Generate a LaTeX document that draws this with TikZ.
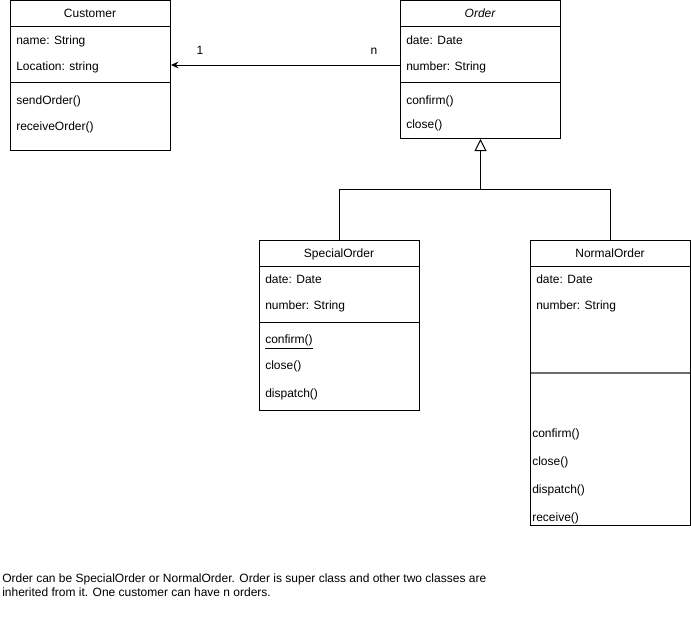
\documentclass[tikz,border=0pt]{standalone}
\usepackage{fontspec}
\setmainfont{Liberation Sans}
\usetikzlibrary{arrows.meta,calc}
\begin{document}
\begin{tikzpicture}[x=0.75pt,y=-0.75pt,
  every node/.style={font=\fontsize{9}{11}\selectfont},
  box/.style={draw,line width=0.75pt,inner sep=0pt,anchor=north west,minimum width=120pt},
  txt/.style={anchor=base west,inner sep=0pt},
  ttl/.style={anchor=base,inner sep=0pt},
  sep/.style={line width=0.75pt},
  lbl/.style={anchor=base,inner sep=0pt}]
\useasboundingbox (0,0) rectangle (691,621);
% Customer
\node[box,minimum height=112.5pt] (customer) at (10,0) {};
\node[ttl] (customerT) at (90,17.5) {Customer};
\draw[sep] (customer.north west)++(0,26) -- ++(160,0);
\draw[sep] (customer.north west)++(0,82) -- ++(160,0);
\node[txt] (c1) at (16,44.5) {name: String};
\node[txt] (c2) at (16,70.5) {Location: string};
\node[txt] (c3) at (16,104.5) {sendOrder()};
\node[txt] (c4) at (16,130.5) {receiveOrder()};
% Order
\node[box,minimum height=103.5pt] (order) at (400,0) {};
\node[ttl] (orderT) at (480,17.5) {\itshape Order};
\draw[sep] (order.north west)++(0,26) -- ++(160,0);
\draw[sep] (order.north west)++(0,82) -- ++(160,0);
\node[txt] (o1) at (406,44.5) {date: Date};
\node[txt] (o2) at (406,70.5) {number: String};
\node[txt] (o3) at (406,104.5) {confirm()};
\node[txt] (o4) at (406,128.5) {close()};
% SpecialOrder
\node[box,minimum height=127.5pt] (special) at (259,240) {};
\node[ttl] (specialT) at (339,257.5) {SpecialOrder};
\draw[sep] (special.north west)++(0,26) -- ++(160,0);
\draw[sep] (special.north west)++(0,82) -- ++(160,0);
\node[txt] (s1) at (265,283.5) {date: Date};
\node[txt] (s2) at (265,309.5) {number: String};
\node[txt] (s3) at (265,343.5) {\underline{confirm()}};
\node[txt] (s4) at (265,369.5) {close()};
\node[txt] (s5) at (265,397.5) {dispatch()};
% NormalOrder
\node[box,minimum height=213.75pt] (normal) at (530,240) {};
\node[ttl] (normalT) at (610,257.5) {NormalOrder};
\draw[sep] (normal.north west)++(0,26) -- ++(160,0);
\draw[line width=1.2pt,gray!85!black] (normal.north west)++(0.5,133) -- ++(159,0);
\node[txt] (n1) at (536,283.5) {date: Date};
\node[txt] (n2) at (536,309.5) {number: String};
\node[txt] (n3) at (532,437.5) {confirm()};
\node[txt] (n4) at (532,465.5) {close()};
\node[txt] (n5) at (532,493.5) {dispatch()};
\node[txt] (n6) at (532,521.5) {receive()};
% association
\draw[line width=0.75pt,-{Stealth[length=5.5pt,width=5pt]}] ($(order.north west)+(0,65)$) -- ($(customer.north east)+(0,65)$);
\node[lbl] (one) at (200,54.5) {1};
\node[lbl] (many) at (374,54.5) {n};
% inheritance
\coordinate (join) at (order.south |- 0,189);
\draw[line width=0.75pt,-{Triangle[open,length=9pt,width=9pt]}] (join) -- (order.south);
\draw[line width=0.75pt] (special.north) -- (special.north |- join) -- (normal.north |- join) -- (normal.north);
% note
\node[anchor=base west,inner sep=0pt,align=left,font=\fontsize{9}{10.5}\selectfont] (note) at (2,596.5) {Order can be SpecialOrder or NormalOrder. Order is super class and other two classes are\\inherited from it. One customer can have n orders.};
\end{tikzpicture}
\end{document}
